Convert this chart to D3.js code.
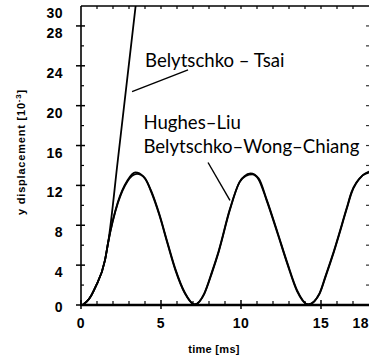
<!DOCTYPE html>
<html><head><meta charset="utf-8">
<script src="https://cdn.jsdelivr.net/npm/d3@7"></script>
<style>body{margin:0;background:#fff} svg{display:block}</style>
</head><body><svg id="c" width="370" height="362"></svg>
<script>
// ---- data ----
const xTickLabels = [0, 5, 10, 15, 18];
const xMajorTicks = [0, 5, 10, 15];
const xMinorTicks = [1, 2, 3, 4, 6, 7, 8, 9, 11, 12, 13, 14, 16, 17];
const yTickLabels = [0, 4, 8, 12, 16, 20, 24, 28, 30];
const yMajorTicks = [0, 4, 8, 12, 16, 20, 24, 28];
const yMinorTicks = [2, 6, 10, 14, 18, 22, 26];

const hughesLiuT = [0.1,0.5,0.9,1.5,1.7,2.3,2.9,3.4,3.9,4.4,4.9,5.4,5.9,6.5,7.1,7.7,8.2,8.6,9.3,9.9,10.2,10.6,11.1,11.6,12.3,12.9,13.5,14.2,14.9,15.3,15.8,16.6,16.9,17.6,18.0];
const hughesLiuV = [0,0.6,1.8,4.5,6.3,10.3,12.5,13.3,12.9,11.4,9.1,6.3,3.6,1.2,0.05,1.1,3.3,5.3,9.5,12.3,12.9,13.2,12.7,10.6,7.2,4.2,1.5,0.05,1.1,2.9,5.3,9.6,11.2,13.0,13.4];

const bwcT = [0.1,0.5,0.9,1.5,1.7,2.3,2.9,3.5,4.0,4.4,4.9,5.4,5.9,6.5,7.1,7.7,8.2,8.6,9.3,9.9,10.3,10.7,11.1,11.6,12.3,12.9,13.5,14.2,14.9,15.3,15.8,16.6,16.9,17.6,18.0];
const bwcV = [0,0.6,1.8,4.5,6.3,10.2,12.4,13.15,12.7,11.3,9.0,6.2,3.5,1.15,0.05,1.15,3.4,5.4,9.6,12.3,12.95,13.1,12.6,10.5,7.1,4.1,1.4,0.05,1.15,3.0,5.4,9.7,11.3,13.0,13.3];

const tsaiT = [0.1,0.5,0.9,1.5,1.7,2.3,3.45];
const tsaiV = [0,0.6,1.8,4.5,6.3,14.5,30.5];

const yLabel = "y displacement [10";
const yLabelSup = "-3";
const xLabel = "time [ms]";
const labelTsai = "Belytschko – Tsai";
const labelHL = "Hughes–Liu";
const labelBWC = "Belytschko–Wong–Chiang";

// ---- drawing ----
const svg = d3.select("#c");
const x = d3.scaleLinear().domain([0, 18]).range([81, 369]);
const y = d3.scaleLinear().domain([0, 30]).range([305, 6]);

svg.append("defs").append("clipPath").attr("id","clip")
  .append("rect").attr("x", x(0)).attr("y", y(30)).attr("width", x(18)-x(0)).attr("height", y(0)-y(30));

const line = d3.line().x(d => x(d[0])).y(d => y(d[1])).curve(d3.curveMonotoneX);
const g = svg.append("g").attr("clip-path","url(#clip)");
function series(T, V){ return T.map((t,i)=>[t, V[i]]); }
[ [hughesLiuT, hughesLiuV], [bwcT, bwcV], [tsaiT, tsaiV] ].forEach(([T,V]) => {
  g.append("path").datum(series(T,V)).attr("d", line)
   .attr("fill","none").attr("stroke","#000").attr("stroke-width",1.8).attr("stroke-linejoin","round");
});

// axes frame
const ax = svg.append("g").attr("stroke","#000");
ax.append("line").attr("x1",x(0)).attr("x2",x(0)).attr("y1",y(0)+1).attr("y2",y(30)).attr("stroke-width",1.6);
ax.append("line").attr("x1",x(0)-1).attr("x2",x(18)).attr("y1",y(0)).attr("y2",y(0)).attr("stroke-width",2.6);
ax.append("line").attr("x1",x(0)).attr("x2",x(18)).attr("y1",y(30)).attr("y2",y(30)).attr("stroke-width",1.6);

// left ticks
yMajorTicks.forEach(v => ax.append("line").attr("x1",x(0)-5).attr("x2",x(0)+4).attr("y1",y(v)).attr("y2",y(v)).attr("stroke-width",1.5));
yMinorTicks.forEach(v => ax.append("line").attr("x1",x(0)).attr("x2",x(0)+3).attr("y1",y(v)).attr("y2",y(v)).attr("stroke-width",1.2));
// right ticks (only marks visible)
yMajorTicks.concat(yMinorTicks).forEach(v => { if(v>0) ax.append("line").attr("x1",x(18)-3).attr("x2",x(18)).attr("y1",y(v)).attr("y2",y(v)).attr("stroke-width",1.2).attr("stroke","#333"); });
// bottom ticks
xMajorTicks.forEach(t => ax.append("line").attr("x1",x(t)).attr("x2",x(t)).attr("y1",y(0)-5).attr("y2",y(0)+4).attr("stroke-width",1.5));
xMinorTicks.forEach(t => ax.append("line").attr("x1",x(t)).attr("x2",x(t)).attr("y1",y(0)-4).attr("y2",y(0)).attr("stroke-width",1.2));
// top ticks
xMajorTicks.concat(xMinorTicks).forEach(t => { if(t>0) ax.append("line").attr("x1",x(t)).attr("x2",x(t)).attr("y1",y(30)).attr("y2",y(30)+3).attr("stroke-width",1.2); });

// tick labels (scanned labels sit slightly below their ticks)
const tf = "'Liberation Sans', Arial, sans-serif";
svg.append("g").selectAll("text").data(yTickLabels).join("text")
  .attr("x", 63).attr("y", d => y(d) + (d === 0 ? 7 : 12)).attr("text-anchor","end")
  .attr("font-family", tf).attr("font-weight","bold").attr("font-size",14).attr("letter-spacing",0.5)
  .text(d => d);
svg.append("g").selectAll("text").data(xTickLabels).join("text")
  .attr("x", d => d === 18 ? 369 : x(d)).attr("y", 328).attr("text-anchor", d => d === 18 ? "end" : "middle")
  .attr("font-family", tf).attr("font-weight","bold").attr("font-size",14).attr("letter-spacing",0.5)
  .text(d => d);

// axis titles
svg.append("text").attr("x", 214).attr("y", 353).attr("text-anchor","middle")
  .attr("font-family", tf).attr("font-weight","bold").attr("font-size",11).attr("letter-spacing",0.3)
  .text(xLabel);
const yt = svg.append("text").attr("transform","translate(25,152) rotate(-90)").attr("text-anchor","middle")
  .attr("font-family", tf).attr("font-weight","bold").attr("font-size",11).attr("letter-spacing",0.8);
yt.append("tspan").text(yLabel);
yt.append("tspan").attr("dy",-4).attr("font-size",8).text(yLabelSup);
yt.append("tspan").attr("dy",4).text("]");

// annotations
const af = "Lato, 'Open Sans', sans-serif";
function ann(txt, t, v){
  svg.append("text").attr("x", x(t)).attr("y", y(v)).attr("font-family", af).attr("font-size",18.6).attr("fill","#000").text(txt);
}
ann(labelTsai, 4.0, 23.9);
ann(labelHL, 3.9, 17.7);
ann(labelBWC, 3.9, 15.3);
svg.append("line").attr("x1",x(6.69)).attr("y1",y(23.6)).attr("x2",x(3.19)).attr("y2",y(21.4)).attr("stroke","#000").attr("stroke-width",1.4);
svg.append("line").attr("x1",x(7.94)).attr("y1",y(14.3)).attr("x2",x(9.31)).attr("y2",y(10.5)).attr("stroke","#000").attr("stroke-width",1.4);
</script>
</body></html>
